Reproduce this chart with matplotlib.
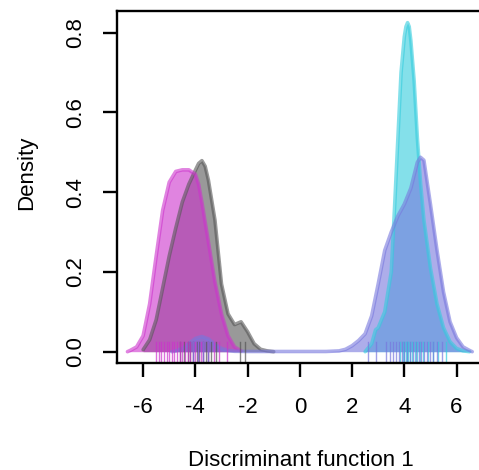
import matplotlib
matplotlib.use("Agg")
import matplotlib.pyplot as plt

plt.rcParams['font.family'] = ['Liberation Sans', 'DejaVu Sans']

# Kernel density estimates of discriminant function 1, per group
x_gray = [-6.0, -5.75, -5.5, -5.25, -5.0, -4.75, -4.5, -4.25, -4.0, -3.875, -3.75,
          -3.625, -3.5, -3.25, -3.0, -2.75, -2.5, -2.25, -2.0, -1.75, -1.5, -1.25, -1.0]
d_gray = [0.005, 0.03, 0.08, 0.16, 0.24, 0.31, 0.375, 0.42, 0.455, 0.472, 0.479,
          0.465, 0.43, 0.33, 0.17, 0.095, 0.068, 0.075, 0.05, 0.02, 0.006, 0.002, 0.0]

x_magenta = [-6.6, -6.5, -6.25, -6.0, -5.75, -5.5, -5.25, -5.0, -4.75, -4.5, -4.25,
             -4.0, -3.875, -3.75, -3.5, -3.25, -3.0, -2.75, -2.5, -2.25]
d_magenta = [0.0, 0.003, 0.012, 0.04, 0.12, 0.24, 0.355, 0.425, 0.452, 0.456, 0.456,
             0.445, 0.42, 0.375, 0.275, 0.175, 0.095, 0.04, 0.012, 0.002]

x_cyan = [2.5, 2.75, 2.9, 3.0, 3.25, 3.5, 3.625, 3.75, 3.875, 4.0, 4.0625, 4.125,
          4.1875, 4.25, 4.375, 4.5, 4.625, 4.75, 5.0, 5.25, 5.5, 5.75, 6.0, 6.25, 6.5]
d_cyan = [0.0, 0.02, 0.055, 0.06, 0.1, 0.2, 0.36, 0.53, 0.70, 0.79, 0.815, 0.825,
          0.815, 0.78, 0.68, 0.535, 0.42, 0.33, 0.21, 0.12, 0.06, 0.025, 0.008, 0.002, 0.0]

x_purple = [-4.9, -4.75, -4.5, -4.25, -4.0, -3.75, -3.5, -3.25, -3.0, -2.75, -2.5,
            -2.0, 0.0, 1.0, 1.5, 1.75, 2.0, 2.25, 2.5, 2.75, 3.0, 3.25, 3.5, 3.75,
            4.0, 4.25, 4.5, 4.62, 4.75, 5.0, 5.25, 5.5, 5.75, 6.0, 6.25, 6.5, 6.6]
d_purple = [0.0, 0.002, 0.008, 0.02, 0.033, 0.038, 0.032, 0.018, 0.008, 0.003, 0.001,
            0.0005, 0.0005, 0.0005, 0.002, 0.006, 0.015, 0.028, 0.045, 0.09, 0.17,
            0.254, 0.30, 0.34, 0.37, 0.41, 0.475, 0.4875, 0.48, 0.37, 0.255, 0.15,
            0.075, 0.035, 0.012, 0.003, 0.0]

# Observed scores (rug)
rug_gray = [-4.6, -4.45, -4.3, -4.2, -4.1, -3.95, -3.85, -3.7, -3.6, -3.5, -3.4,
            -3.2, -2.3, -2.1]
rug_magenta = [-5.5, -5.4, -5.3, -5.2, -5.1, -5.0, -4.9, -4.8, -4.7, -4.6, -4.5,
               -4.4, -4.3, -4.2, -4.1, -4.0, -3.9, -3.8, -3.7, -3.5, -3.3, -3.1, -2.8]
rug_cyan = [3.85, 3.95, 4.0, 4.05, 4.1, 4.15, 4.2, 4.3, 4.4, 4.5, 4.6, 4.7, 4.9,
            5.1, 5.3, 5.6]
rug_purple = [-4.1, -3.9, -3.7, -3.5, 2.6, 2.9, 3.3, 3.45, 3.55, 3.7, 3.8, 3.9, 4.0,
              4.1, 4.2, 4.35, 4.45, 4.55, 4.65, 4.75, 4.85, 5.0, 5.1, 5.25, 5.45]

groups = [
    (x_gray, d_gray, rug_gray, '#555555'),
    (x_magenta, d_magenta, rug_magenta, '#CC33CC'),
    (x_cyan, d_cyan, rug_cyan, '#33CCDD'),
    (x_purple, d_purple, rug_purple, '#7777DD'),
]

fig = plt.figure(figsize=(4.79, 4.70), dpi=100)
W, H = 479, 470
left_px, right_px, top_px, bottom_px = 117, 490, 10.7, 363.3
ax = fig.add_axes([left_px / W, 1 - bottom_px / H,
                   (right_px - left_px) / W, (bottom_px - top_px) / H])

for xs, ds, rug, col in groups:
    ax.fill_between(xs, ds, 0, color=col, alpha=0.6, linewidth=0)
    ax.plot(xs, ds, color=col, alpha=0.6, lw=2.6, solid_joinstyle='round',
            solid_capstyle='round')

for xs, ds, rug, col in groups:
    for r in rug:
        ax.plot([r, r], [0.0045, 0.061], color=col, alpha=0.7, lw=1.0,
                transform=ax.get_xaxis_transform())

ax.set_xlim(-7.0, -7.0 + (right_px - left_px) / 26.12)
ax.set_ylim(-0.0291, 0.855)
ax.set_xticks([-6, -4, -2, 0, 2, 4, 6])
ax.set_xticklabels(['-6', '-4', '-2', '0', '2', '4', '6'])
ax.set_yticks([0.0, 0.2, 0.4, 0.6, 0.8])
ax.set_yticklabels(['0.0', '0.2', '0.4', '0.6', '0.8'])

for s in ax.spines.values():
    s.set_linewidth(1.7)
ax.tick_params(axis='both', direction='out', length=10, width=1.7,
               labelsize=16, color='black')
ax.tick_params(axis='x', pad=14)
ax.tick_params(axis='y', pad=12, labelrotation=90)
for lab in ax.get_yticklabels():
    lab.set_va('center')

ax.set_xlabel('Discriminant function 1', fontsize=16)
ax.set_ylabel('Density', fontsize=16)
ax.xaxis.label.set_va('center')
ax.yaxis.label.set_va('center')
ax.xaxis.set_label_coords(300.5 / W, 1 - 460 / H, transform=fig.transFigure)
ax.yaxis.set_label_coords(27 / W, 1 - 172.5 / H, transform=fig.transFigure)

fig.savefig('out.png', dpi=100)
